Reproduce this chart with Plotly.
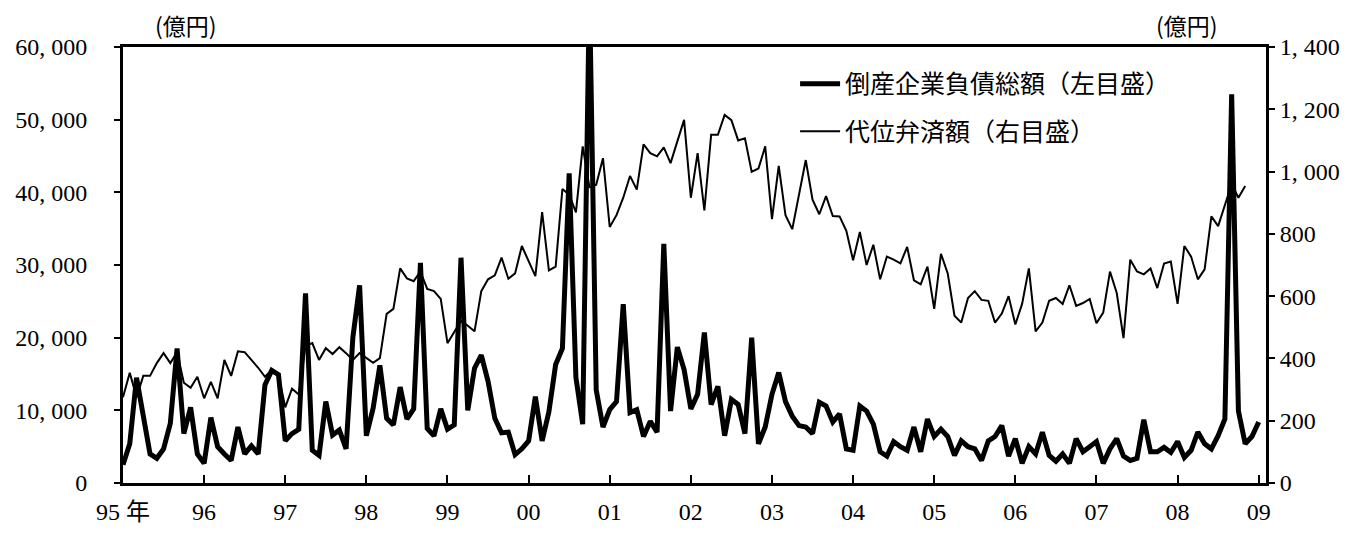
import plotly.graph_objects as go

# Monthly series, January 1995 onward
start_year = 1995

# 倒産企業負債総額 (億円), left scale
debt = [
    2500, 5400, 14500, 9500, 4000, 3400, 4700, 8200, 18500, 6800, 10400, 4000,
    2700, 9000, 5000, 4000, 3100, 7700, 4000, 5100, 4000, 13500, 15500, 14900,
    5800, 6800, 7400, 26100, 4500, 3800, 11200, 6600, 7300, 4700, 20000, 27200,
    6500, 10300, 16200, 8900, 8000, 13200, 8800, 10200, 30300, 7500, 6500, 10200,
    7400, 8000, 31000, 10000, 15800, 17600, 14000, 8900, 6900, 7000, 3900, 4700,
    5800, 11900, 5800, 9800, 16300, 18500, 42600, 14500, 8100, 68000, 12800, 7700,
    10100, 11200, 24600, 9700, 10100, 6400, 8500, 7000, 32900, 9900, 18700, 15600,
    10200, 12200, 20700, 10800, 13300, 6500, 11500, 10800, 6800, 20000, 5400, 7700,
    12200, 15200, 11200, 9200, 7900, 7700, 6800, 11100, 10600, 8400, 9500, 4700,
    4500, 10600, 9900, 8100, 4300, 3700, 5700, 5000, 4500, 7700, 4300, 8800,
    6400, 7400, 6400, 3800, 5800, 5000, 4700, 3100, 5800, 6400, 7900, 3700,
    6100, 2700, 5000, 4000, 7000, 3800, 3000, 4000, 2700, 6100, 4300, 5000,
    5700, 2700, 4700, 6100, 3700, 3100, 3400, 8700, 4300, 4300, 4900, 4200,
    5700, 3500, 4500, 7000, 5400, 4700, 6500, 8800, 53500, 9900, 5400, 6400,
    8400,
]

# 代位弁済額 (億円), right scale
subrogation = [
    275, 354, 275, 344, 344, 385, 417, 385, 420, 322, 306, 341,
    272, 325, 272, 395, 344, 423, 420, 395, 370, 341, 363, 348,
    243, 303, 284, 440, 449, 395, 433, 414, 436, 417, 395, 417,
    401, 386, 401, 543, 559, 689, 657, 648, 679, 623, 616, 591,
    449, 483, 521, 505, 487, 616, 654, 667, 724, 656, 673, 761,
    711, 664, 870, 683, 695, 944, 926, 869, 1081, 950, 958, 1043,
    822, 860, 916, 986, 942, 1087, 1059, 1049, 1078, 1027, 1097, 1166,
    916, 1059, 875, 1118, 1118, 1182, 1165, 1100, 1107, 999, 1010, 1081,
    847, 1018, 860, 815, 926, 1037, 910, 863, 921, 857, 856, 810,
    715, 806, 700, 765, 654, 727, 717, 705, 758, 651, 638, 695,
    559, 736, 673, 537, 515, 594, 616, 588, 585, 515, 544, 600,
    509, 575, 689, 487, 515, 585, 594, 575, 635, 569, 578, 591,
    513, 547, 679, 610, 465, 717, 679, 670, 689, 626, 705, 711,
    575, 761, 727, 654, 686, 856, 825, 895, 960, 916, 954,
]

x_ticks = list(range(1995, 2010))
x_ticktext = ["95 年"] + [f"{y % 100:02d}" for y in x_ticks[1:]]

left_ticks = [0, 10000, 20000, 30000, 40000, 50000, 60000]
left_ticktext = ["0", "10, 000", "20, 000", "30, 000", "40, 000", "50, 000", "60, 000"]
right_ticks = [0, 200, 400, 600, 800, 1000, 1200, 1400]
right_ticktext = ["0", "200", "400", "600", "800", "1, 000", "1, 200", "1, 400"]

x_debt = [start_year + i / 12 for i in range(len(debt))]
x_sub = [start_year + i / 12 for i in range(len(subrogation))]

TICK_FONT = dict(family="Liberation Serif, Noto Sans CJK JP", size=24, color="black")
CJK_FONT = dict(family="Noto Sans CJK JP", size=25, color="black")
UNIT_FONT = dict(family="Noto Sans CJK JP", size=23, color="black")

fig = go.Figure()
fig.add_trace(go.Scatter(
    x=x_debt, y=debt, mode="lines", name="倒産企業負債総額（左目盛）",
    line=dict(color="black", width=5), legendgroup="a", yaxis="y",
))
fig.add_trace(go.Scatter(
    x=x_sub, y=subrogation, mode="lines", name="代位弁済額（右目盛）",
    line=dict(color="black", width=2), legendgroup="b", yaxis="y2",
))

fig.update_layout(
    width=1355, height=537,
    margin=dict(l=123, r=89, t=47, b=47),
    paper_bgcolor="white", plot_bgcolor="white",
    showlegend=True,
    legend=dict(
        x=0.588, y=0.968, xanchor="left", yanchor="top",
        font=CJK_FONT, bgcolor="rgba(0,0,0,0)",
        tracegroupgap=12, itemwidth=40,
    ),
    xaxis=dict(
        range=[1995, 2009.09], tickvals=x_ticks, ticktext=x_ticktext,
        ticks="inside", ticklen=8, tickwidth=2, tickcolor="black",
        showline=True, linewidth=3, linecolor="black", mirror=True,
        showgrid=False, zeroline=False, tickfont=TICK_FONT,
        ticklabelstandoff=5,
    ),
    yaxis=dict(
        range=[0, 60000], tickvals=left_ticks, ticktext=left_ticktext,
        ticks="outside", ticklen=6, tickwidth=2, tickcolor="black",
        showline=True, linewidth=3, linecolor="black",
        showgrid=False, zeroline=False, tickfont=TICK_FONT,
        ticklabelstandoff=22,
    ),
    yaxis2=dict(
        range=[0, 1400], tickvals=right_ticks, ticktext=right_ticktext,
        overlaying="y", side="right",
        ticks="outside", ticklen=6, tickwidth=2, tickcolor="black",
        showline=True, linewidth=3, linecolor="black",
        showgrid=False, zeroline=False, tickfont=TICK_FONT,
    ),
    annotations=[
        dict(text="(億円)", xref="paper", yref="paper", x=0.055, y=1.0,
             yshift=3, xanchor="center", yanchor="bottom", showarrow=False,
             font=UNIT_FONT),
        dict(text="(億円)", xref="paper", yref="paper", x=0.931, y=1.0,
             yshift=3, xanchor="center", yanchor="bottom", showarrow=False,
             font=UNIT_FONT),
    ],
)

fig.write_html("out.html")
